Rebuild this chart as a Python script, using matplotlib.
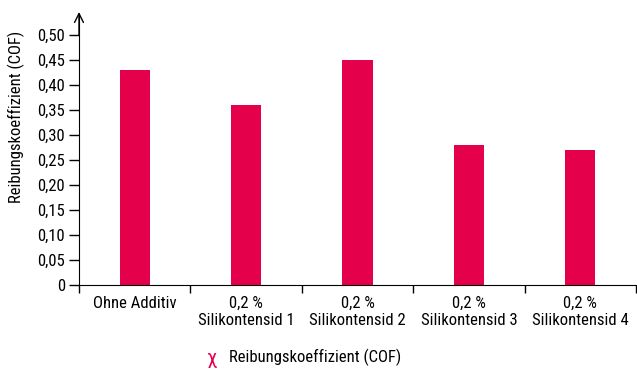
import numpy as np
import matplotlib.pyplot as plt

plt.rcParams['font.family'] = ['Roboto Condensed', 'Liberation Sans', 'DejaVu Sans']

kategorien = ['Ohne Additiv', '0,2 %\nSilikontensid 1', '0,2 %\nSilikontensid 2',
              '0,2 %\nSilikontensid 3', '0,2 %\nSilikontensid 4']
cof = [0.43, 0.36, 0.45, 0.28, 0.27]
yticks = [0, 0.05, 0.10, 0.15, 0.20, 0.25, 0.30, 0.35, 0.40, 0.45, 0.50]
ylabels = ['0', '0,05', '0,10', '0,15', '0,20', '0,25', '0,30', '0,35', '0,40', '0,45', '0,50']

rot = '#E4004B'
fs = 12

fig = plt.figure(figsize=(6.37, 3.70), dpi=100)
ax = fig.add_axes([79/637, 85/370, (636-79)/637, (285-14)/370])

x = np.arange(len(cof))
ax.bar(x, cof, width=0.27, color=rot)

ax.set_xlim(-0.5, len(cof) - 0.5)
ax.set_ylim(0, 0.542)
ax.set_yticks(yticks)
ax.set_yticklabels(ylabels)
ax.set_xticks(x)
ax.set_xticklabels(kategorien, linespacing=1.15)
ax.set_xticks(np.arange(len(cof) + 1) - 0.5, minor=True)
ax.tick_params(axis='x', which='major', length=0, pad=8, labelsize=fs)
ax.tick_params(axis='x', which='minor', length=6, width=1, direction='out')
ax.tick_params(axis='y', length=7, width=1, direction='out', pad=3, labelsize=fs)

for s in ['top', 'right']:
    ax.spines[s].set_visible(False)

# Pfeil an der y-Achse
ax.annotate('', xy=(-0.5, 0.546), xytext=(-0.5, 0.50),
            arrowprops=dict(arrowstyle='->', lw=1, color='black', shrinkA=0, shrinkB=0,
                            mutation_scale=16),
            annotation_clip=False)

fig.text(16/637, 1 - 117/370, 'Reibungskoeffizient (COF)', rotation=90,
         ha='center', va='center', fontsize=fs)

fig.text(212/637, 1 - 358/370, 'χ', color=rot, ha='center', va='center', fontsize=15)
fig.text(229/637, 1 - 357/370, 'Reibungskoeffizient (COF)', ha='left', va='center', fontsize=fs)

plt.savefig('out.png', dpi=100)
